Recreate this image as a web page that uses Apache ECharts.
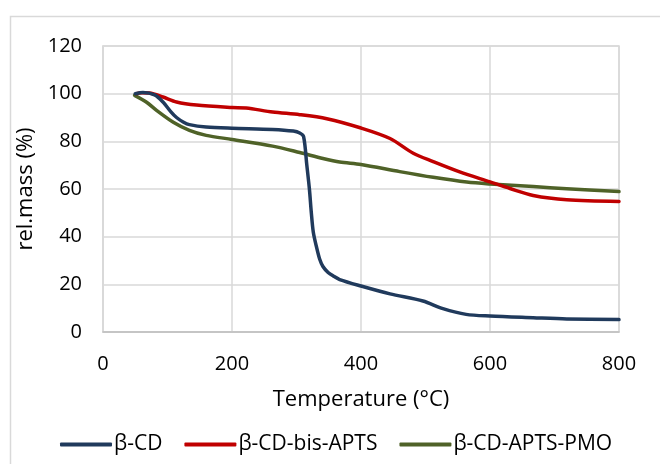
<!DOCTYPE html>
<html>
<head>
<meta charset="utf-8">
<script src="https://cdn.jsdelivr.net/npm/echarts@6/dist/echarts.min.js"></script>
<style>html,body{margin:0;padding:0;background:#fff}#c{width:660px;height:464px}</style>
</head>
<body>
<div id="c"></div>
<script>
var seriesNames = ['β-CD', 'β-CD-bis-APTS', 'β-CD-APTS-PMO'];
var cdTemp = [50, 62, 80, 93, 105, 114, 125, 134, 160, 200, 263, 295, 305, 311, 316, 320, 323, 326, 331, 336, 341, 349, 357, 367, 400, 445, 496, 527, 563, 600, 667, 719, 800];
var cdMass = [100, 100.5, 99.5, 96.5, 92.5, 90, 88, 87, 86, 85.5, 85, 84.3, 83.5, 82, 70, 60, 50, 42, 35.7, 30.5, 27.5, 25, 23.5, 22, 19.3, 16, 13, 9.8, 7.4, 6.7, 6, 5.5, 5.2];
var bisTemp = [52, 60, 72, 93, 114, 145, 200, 222, 263, 305, 347, 400, 445, 481, 512, 553, 600, 631, 667, 719, 800];
var bisMass = [100, 100.4, 100.3, 98.6, 96.5, 95.2, 94.2, 94, 92.3, 91.2, 89.5, 85.6, 81.2, 75, 71.5, 67.2, 63, 60.2, 57.3, 55.5, 54.8];
var pmoTemp = [49, 67, 83, 109, 134, 160, 200, 263, 305, 341, 367, 400, 460, 512, 564, 600, 667, 719, 800];
var pmoMass = [99.3, 96.5, 93, 88, 84.6, 82.5, 80.8, 78, 75.3, 72.8, 71.3, 70.3, 67.3, 64.9, 62.9, 62.1, 61, 60.1, 58.9];
var xTicks = [0, 200, 400, 600, 800];
var yTicks = [0, 20, 40, 60, 80, 100, 120];

function pairs(xs, ys) { return xs.map(function (x, i) { return [x, ys[i]]; }); }
var colors = ['#203A5C', '#C00000', '#4F6228'];
var allData = [pairs(cdTemp, cdMass), pairs(bisTemp, bisMass), pairs(pmoTemp, pmoMass)];
var font = 'Open Sans';

var chart = echarts.init(document.getElementById('c'), null, { renderer: 'canvas' });
chart.setOption({
  animation: false,
  backgroundColor: '#fff',
  graphic: [{
    type: 'rect', left: 8, top: 14, silent: true,
    shape: { width: 700, height: 500 },
    style: { fill: 'none', stroke: '#d9d9d9', lineWidth: 1.5 }
  }],
  grid: { left: 103, right: 41, top: 46, bottom: 132, show: true, borderColor: '#d9d9d9', borderWidth: 1.5 },
  legend: {
    bottom: 4, left: 55,
    icon: 'roundRect', itemWidth: 52, itemHeight: 4, itemGap: 22,
    textStyle: { fontFamily: font, fontSize: 21, color: '#000', padding: [0, 0, 0, -3] },
    data: seriesNames
  },
  xAxis: {
    type: 'value', min: xTicks[0], max: xTicks[xTicks.length - 1], interval: 200,
    name: 'Temperature (°C)', nameLocation: 'middle', nameGap: 57,
    nameTextStyle: { fontFamily: font, fontSize: 22, color: '#000' },
    axisLine: { show: true, onZero: false, lineStyle: { color: '#bfbfbf', width: 1.5 } },
    axisTick: { show: false },
    axisLabel: { fontFamily: font, fontSize: 20, color: '#000', margin: 22 },
    splitLine: { show: true, lineStyle: { color: '#d9d9d9', width: 1.5 } }
  },
  yAxis: {
    type: 'value', min: yTicks[0], max: yTicks[yTicks.length - 1], interval: 20,
    name: 'rel.mass (%)', nameLocation: 'middle', nameGap: 60,
    nameTextStyle: { fontFamily: font, fontSize: 22, color: '#000' },
    axisLine: { show: true, lineStyle: { color: '#d9d9d9', width: 1.5 } },
    axisTick: { show: false },
    axisLabel: { fontFamily: font, fontSize: 20, color: '#000', margin: 21, padding: [6, 0, 0, 0] },
    splitLine: { show: true, lineStyle: { color: '#d9d9d9', width: 1.5 } }
  },
  series: seriesNames.map(function (n, i) {
    return {
      name: n, type: 'line', data: allData[i],
      symbol: 'none', smooth: 0.3,
      color: colors[i],
      lineStyle: { color: colors[i], width: 3.5, cap: 'round', join: 'round' },
      z: 3 - i
    };
  })
});
</script>
</body>
</html>
